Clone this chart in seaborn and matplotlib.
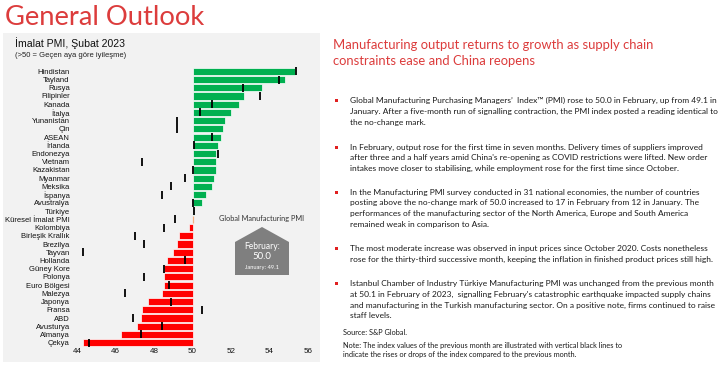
import matplotlib
matplotlib.use("Agg")
import matplotlib.pyplot as plt
import seaborn as sns
import pandas as pd
from matplotlib.patches import Rectangle, Polygon

# ---------------- data ----------------
countries = ["Hindistan", "Tayland", "Rusya", "Filipinler", "Kanada", "İtalya", "Yunanistan",
             "Çin", "ASEAN", "İrlanda", "Endonezya", "Vietnam", "Kazakistan", "Myanmar",
             "Meksika", "İspanya", "Avustralya", "Türkiye", "Küresel İmalat PMI", "Kolombiya",
             "Birleşik Krallık", "Brezilya", "Tayvan", "Hollanda", "Güney Kore", "Polonya",
             "Euro Bölgesi", "Malezya", "Japonya", "Fransa", "ABD", "Avusturya", "Almanya", "Çekya"]
pmi_feb = [55.3, 54.8, 53.6, 52.7, 52.4, 52.0, 51.7, 51.6, 51.5, 51.3, 51.2, 51.2, 51.2, 51.1,
           51.0, 50.7, 50.5, 50.1, 50.0, 49.8, 49.3, 49.2, 49.0, 48.7, 48.5, 48.5, 48.5, 48.4,
           47.7, 47.4, 47.3, 47.1, 46.3, 44.3]
pmi_jan = [55.4, 54.5, 52.6, 53.5, 51.0, 50.4, 49.2, 49.2, 51.0, 50.1, 51.3, 47.4, 50.0, 49.6,
           48.9, 48.4, 50.0, 50.1, 49.1, 48.5, 47.0, 47.5, 44.3, 49.6, 48.5, 47.5, 48.8, 46.5,
           48.9, 50.5, 46.9, 48.4, 47.3, 44.6]
neutral = 50.0
x_ticks = [44, 46, 48, 50, 52, 54, 56]

page_title = "General Outlook"
chart_title = "İmalat PMI, Şubat 2023"
chart_subtitle = "(>50 = Geçen aya göre iyileşme)"
global_label = "Global Manufacturing PMI"
box_lines = ["February:", "50.0", "January: 49.1"]
heading = ["Manufacturing output returns to growth as supply chain",
           "constraints ease and China reopens"]
bullets = [
    ["Global Manufacturing Purchasing Managers’  Index™ (PMI) rose to 50.0 in February, up from 49.1 in",
     "January. After a five-month run of signalling contraction, the PMI index posted a reading identical to",
     "the no-change mark."],
    ["In February, output rose for the first time in seven months. Delivery times of suppliers improved",
     "after three and a half years amid China's re-opening as COVID restrictions were lifted. New order",
     "intakes move closer to stabilising, while employment rose for the first time since October."],
    ["In the Manufacturing PMI survey conducted in 31 national economies, the number of countries",
     "posting above the no-change mark of 50.0 increased to 17 in February from 12 in January. The",
     "performances of the manufacturing sector of the North America, Europe and South America",
     "remained weak in comparison to Asia."],
    ["The most moderate increase was observed in input prices since October 2020. Costs nonetheless",
     "rose for the thirty-third successive month, keeping the inflation in finished product prices still high."],
    ["Istanbul Chamber of Industry Türkiye Manufacturing PMI was unchanged from the previous month",
     "at 50.1 in February of 2023,  signalling February's catastrophic earthquake impacted supply chains",
     "and manufacturing in the Turkish manufacturing sector. On a positive note, firms continued to raise",
     "staff levels."],
]
source_text = "Source: S&P Global."
note_lines = ["Note: The index values of the previous month are illustrated with vertical black lines to",
              "indicate the rises or drops of the index compared to the previous month."]

# ---------------- figure ----------------
sns.set_theme(style="white")
plt.rcParams['font.family'] = ['Liberation Sans', 'DejaVu Sans']

W, H = 720, 365
fig = plt.figure(figsize=(7.2, 3.65), dpi=100)
fig.patch.set_facecolor("white")
bg = fig.add_axes([0, 0, 1, 1])
bg.set_xlim(0, W)
bg.set_ylim(H, 0)
bg.axis("off")
bg.add_patch(Rectangle((3, 33), 317, 329, facecolor="#f2f2f2", edgecolor="none", zorder=0))

renderer = fig.canvas.get_renderer()


def fit(t, target_w):
    bb = t.get_window_extent(renderer)
    t.set_fontsize(t.get_fontsize() * target_w / bb.width)
    return t


def size_for(s, target_w, **kw):
    t = bg.text(0, 0, s, fontsize=10, **kw)
    bb = t.get_window_extent(renderer)
    t.remove()
    return 10 * target_w / bb.width


RED = "#dc3c3c"
CAL = ['Lato', 'DejaVu Sans']
TXT = "#1a1a1a"

fit(bg.text(5, 25, page_title, color=RED, fontsize=20, family=CAL,
            va="baseline", ha="left"), 200)
fit(bg.text(15, 47.3, chart_title, color="#111111", fontsize=8, va="baseline", ha="left"), 110)
fit(bg.text(15, 55.5, chart_subtitle, color="#222222", fontsize=5, va="center", ha="left"), 112)

# ---------------- chart ----------------
ax = fig.add_axes([77 / W, (H - 346.8) / H, 231 / W, 279.6 / H])
ax.patch.set_alpha(0)
df = pd.DataFrame({"country": countries,
                   "dev": [f - neutral for f in pmi_feb],
                   "feb": pmi_feb,
                   "jan": pmi_jan})
colors = ["#00b050" if f > neutral else ("#f4b183" if f == neutral else "#ff0000") for f in pmi_feb]
sns.barplot(data=df, x="dev", y="country", hue="country", palette=colors, legend=False,
            orient="y", left=neutral, width=0.86, saturation=1, edgecolor="white",
            linewidth=0.5, ax=ax)
for p in ax.patches:
    if abs(p.get_width()) < 1e-9:
        p.set_edgecolor("#f4b183")
        p.set_linewidth(0.9)
sns.scatterplot(data=df, x="jan", y="country", marker="|", s=28, color="black",
                linewidth=1.3, ax=ax, zorder=4, legend=False)

ax.set_xlim(44, 56)
ax.set_ylim(len(countries) - 0.5, -0.5)
ax.set_xticks(x_ticks)
ax.set_xticklabels([str(v) for v in x_ticks])
ax.set_xlabel("")
ax.set_ylabel("")
for s in ax.spines.values():
    s.set_visible(False)
ax.tick_params(axis="y", length=0, pad=5.2, labelsize=5.5, labelcolor="#111111")
ax.tick_params(axis="x", length=0, pad=1.2, labelsize=5.8, labelcolor="#111111")
ax.grid(False)

# global PMI callout
fit(bg.text(262, 219, global_label, color="#333333", fontsize=6, family=CAL,
            ha="center", va="center"), 86)
bg.add_patch(Polygon([(235, 242), (262, 227), (289, 242), (289, 275), (235, 275)],
                     closed=True, facecolor="#7f7f7f", edgecolor="none", zorder=2))
fit(bg.text(262, 246.5, box_lines[0], color="white", fontsize=8, family=CAL,
            ha="center", va="center", zorder=3), 36)
fit(bg.text(262, 256.5, box_lines[1], color="white", fontsize=10, family=CAL,
            ha="center", va="center", zorder=3), 19)
fit(bg.text(262, 267, box_lines[2], color="white", fontsize=4, family=CAL,
            ha="center", va="center", zorder=3), 34)

# ---------------- right text ----------------
hs = size_for(heading[0], 320, family=CAL)
bg.text(333, 45, heading[0], color=RED, fontsize=hs, family=CAL, ha="left", va="center")
bg.text(333, 60.7, heading[1], color=RED, fontsize=hs, family=CAL, ha="left", va="center")

ps = size_for(bullets[0][1], 367, family=CAL)
first_y = [100.7, 147.3, 192.3, 248.7, 283.7]
step = 10.65
for lines, y0 in zip(bullets, first_y):
    bg.add_patch(Rectangle((335.2, y0 - 1.3), 2.6, 2.6, facecolor="#e02020", edgecolor="none"))
    for i, line in enumerate(lines):
        bg.text(350, y0 + i * step, line, color=TXT, fontsize=ps, family=CAL,
                ha="left", va="center")

ns = size_for(note_lines[0], 281, family=CAL)
bg.text(343, 332.7, source_text, color=TXT, fontsize=ns, family=CAL, ha="left", va="center")
bg.text(343, 345.3, note_lines[0], color=TXT, fontsize=ns, family=CAL, ha="left", va="center")
bg.text(343, 354.7, note_lines[1], color=TXT, fontsize=ns, family=CAL, ha="left", va="center")

fig.savefig("out.png", dpi=100, facecolor="white")
